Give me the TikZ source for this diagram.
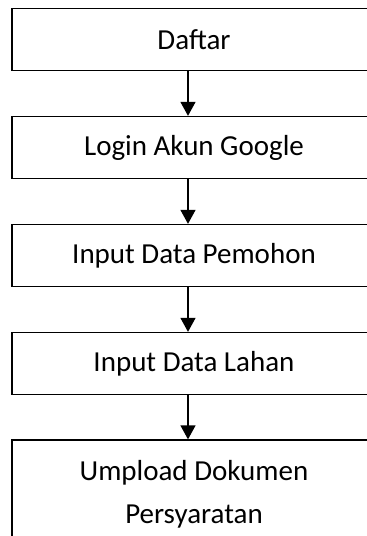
\documentclass[tikz,border=0pt]{standalone}
\usepackage{fontspec}
\setmainfont{Carlito}
\usetikzlibrary{arrows.meta}

\begin{document}
\begin{tikzpicture}[x=1pt,y=-1pt]
  \tikzstyle{StepBox}=[draw,line width=1.3pt,minimum width=364pt,minimum height=62pt,
    inner sep=0pt,align=center,font=\fontsize{29}{43}\selectfont]
  \tikzstyle{FlowEdge}=[line width=1.3pt,-{Triangle[width=15pt,length=14pt]}]

  \clip (0,0) rectangle (367,536);

  \node[StepBox] (daftar) at (194,39.5) {Daftar};
  \node[StepBox] (login) at (194,147.5) {Login Akun Google};
  \node[StepBox] (pemohon) at (194,255.5) {Input Data Pemohon};
  \node[StepBox] (lahan) at (194,363.5) {Input Data Lahan};
  \node[StepBox,minimum height=109pt] (upload) at (194,494.5) {Umpload Dokumen\\Persyaratan};

  \draw[FlowEdge] ([xshift=-6pt]daftar.south) -- ([xshift=-6pt]login.north);
  \draw[FlowEdge] ([xshift=-6pt]login.south) -- ([xshift=-6pt]pemohon.north);
  \draw[FlowEdge] ([xshift=-6pt]pemohon.south) -- ([xshift=-6pt]lahan.north);
  \draw[FlowEdge] ([xshift=-6pt]lahan.south) -- ([xshift=-6pt]upload.north);

\end{tikzpicture}
\end{document}
